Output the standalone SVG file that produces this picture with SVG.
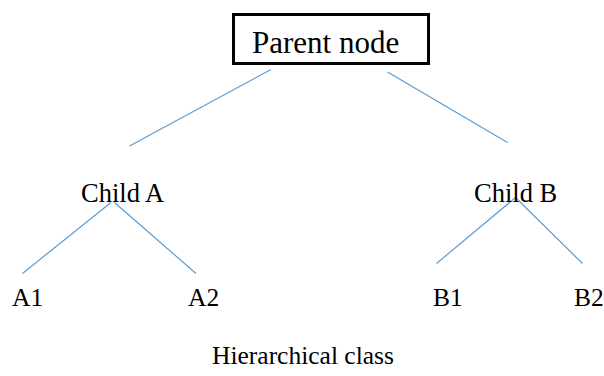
<svg xmlns="http://www.w3.org/2000/svg" width="604" height="376" viewBox="0 0 604 376">
<style>
text{font-family:"Liberation Serif","Times New Roman",serif;fill:#000}
.lbl{font-size:25.5px}
.child{font-size:26.5px}
.edge{stroke:#5B9BD5;stroke-width:1.2;fill:none}
</style>
<rect width="604" height="376" fill="#fff"/>
<g id="connectors">
<line class="edge" x1="271" y1="69.5" x2="129.5" y2="146"/>
<line class="edge" x1="387.5" y1="72" x2="507.5" y2="142.5"/>
<line class="edge" x1="111" y1="202.5" x2="22.5" y2="273.5"/>
<line class="edge" x1="114.5" y1="202.5" x2="196" y2="273.5"/>
<line class="edge" x1="515.5" y1="197.5" x2="436.5" y2="263.5"/>
<line class="edge" x1="515.5" y1="197.5" x2="582.5" y2="263.5"/>
</g>
<g id="parent">
<rect x="233.5" y="14.5" width="195" height="49" fill="#fff" stroke="#000" stroke-width="3"/>
<text x="252" y="53" style="font-size:31px">Parent node</text>
</g>
<g id="childA"><text class="child" x="81" y="202">Child A</text></g>
<g id="childB"><text class="child" x="474" y="202">Child B</text></g>
<g id="a1"><text class="lbl" x="12" y="306">A1</text></g>
<g id="a2"><text class="lbl" x="188" y="306">A2</text></g>
<g id="b1"><text class="lbl" x="433" y="306">B1</text></g>
<g id="b2"><text class="lbl" x="574" y="306">B2</text></g>
<g id="caption"><text class="lbl" x="212" y="364">Hierarchical class</text></g>
</svg>
